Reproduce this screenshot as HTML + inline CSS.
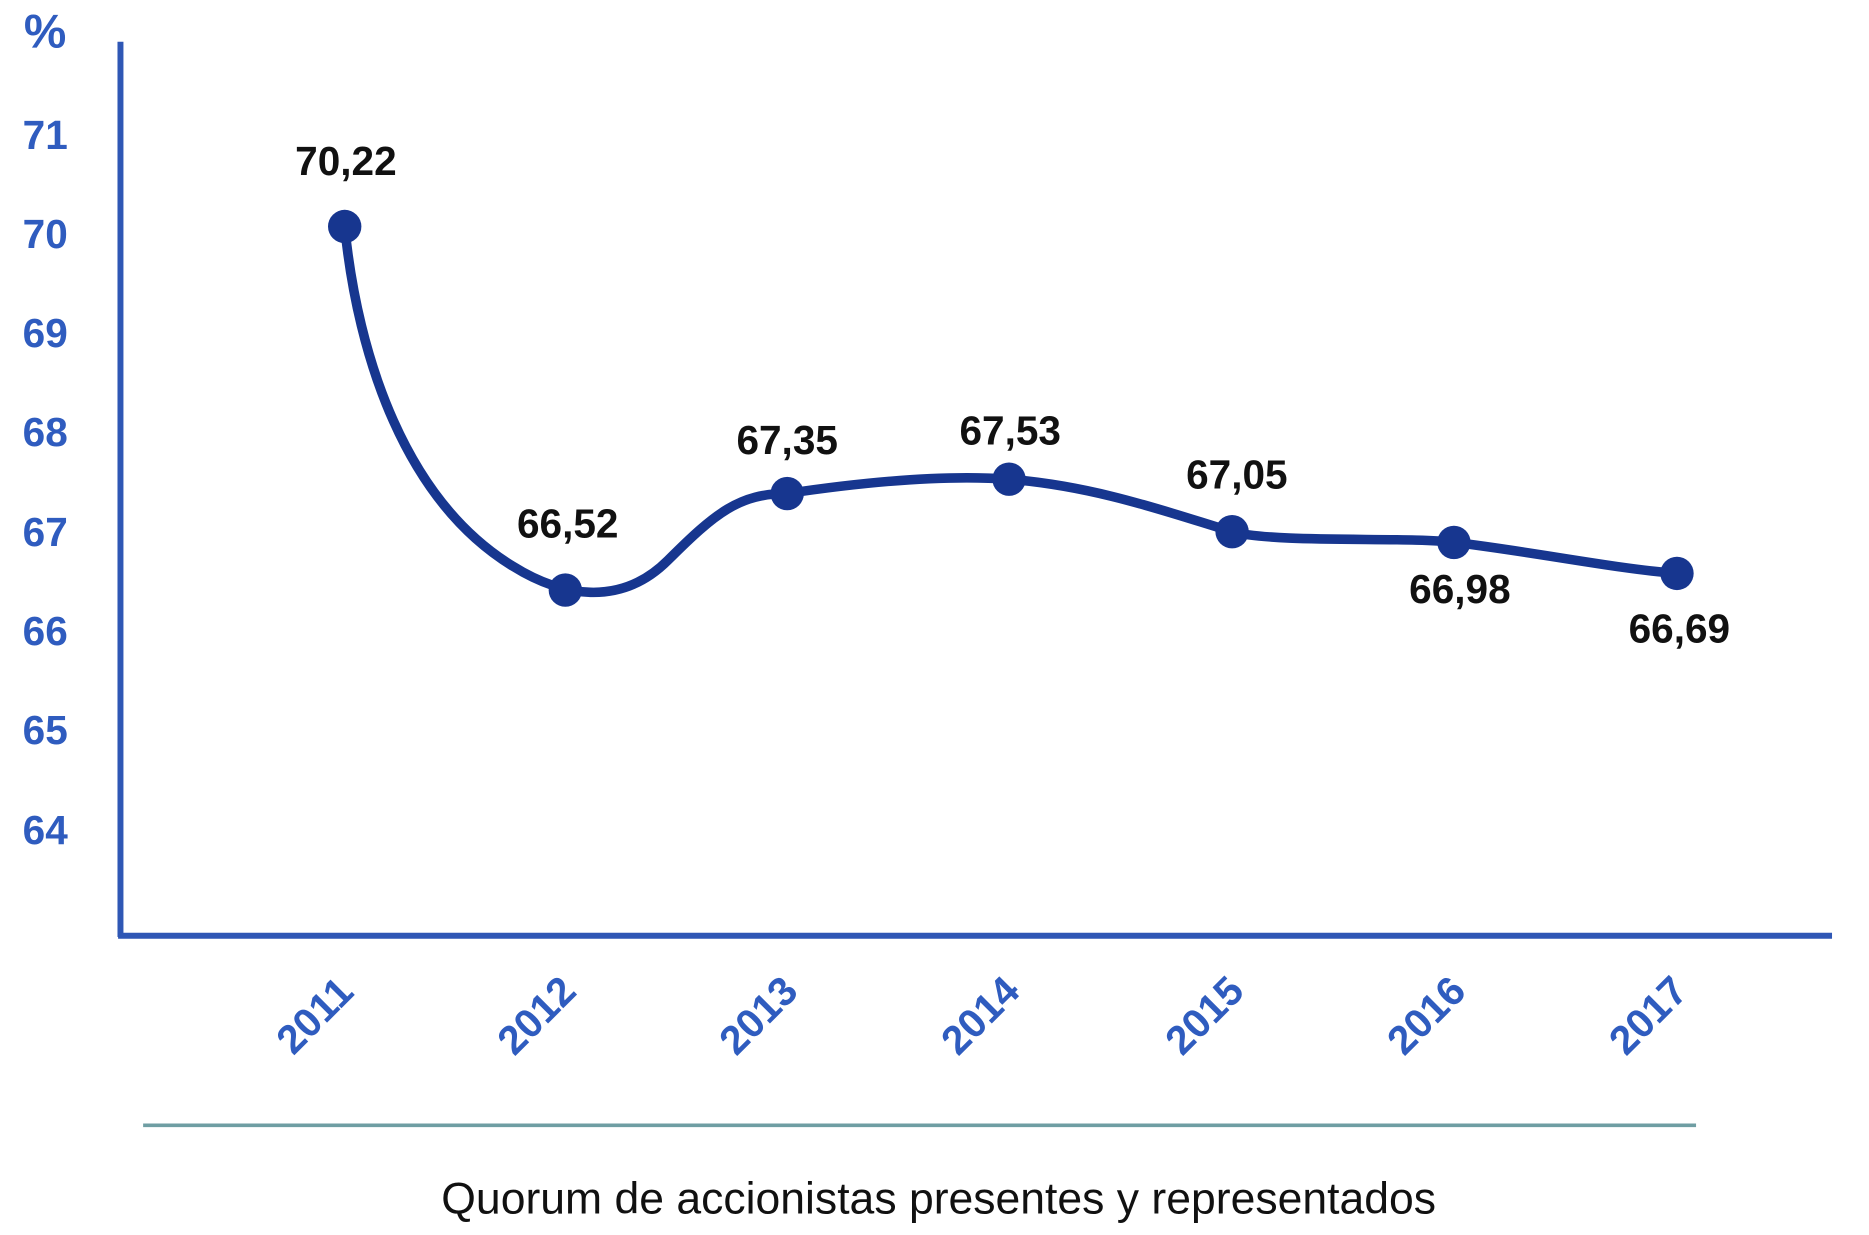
<!DOCTYPE html>
<html><head><meta charset="utf-8"><style>
html,body{margin:0;padding:0;background:#fff;}
svg{display:block;}
</style></head><body>
<svg width="1869" height="1235" viewBox="0 0 1567 1036" preserveAspectRatio="none" xmlns="http://www.w3.org/2000/svg">
<rect width="1567" height="1036" fill="#fff"/>
<g font-family="Liberation Sans, sans-serif" font-weight="bold" fill="#2f5cbf" font-size="34">
<text x="20" y="40" font-size="40">%</text>
<text x="19" y="125">71</text>
<text x="19" y="208">70</text>
<text x="19" y="291">69</text>
<text x="19" y="374">68</text>
<text x="19" y="458">67</text>
<text x="19" y="541">66</text>
<text x="19" y="624">65</text>
<text x="19" y="708">64</text>
</g>
<line x1="101" y1="35" x2="101" y2="786" stroke="#2f57b5" stroke-width="5"/>
<line x1="99" y1="785" x2="1536" y2="785" stroke="#2f57b5" stroke-width="5"/>
<path d="M289,190 C300,300 340,420 430,475 C470,500 520,510 560,470 C600,430 620,414 660,414 C720,405 790,398 846,402 C920,408 980,430 1033,446 C1070,456 1180,450 1219,455 C1280,462 1360,478 1406,481" fill="none" stroke="#17368f" stroke-width="8" stroke-linecap="round"/>
<g fill="#17368f">
<circle cx="289" cy="190" r="14"/><circle cx="474" cy="495" r="14"/><circle cx="660" cy="414" r="14"/><circle cx="846" cy="402" r="14"/><circle cx="1033" cy="446" r="14"/><circle cx="1219" cy="455" r="14"/><circle cx="1406" cy="481" r="14"/>
</g>
<g font-family="Liberation Sans, sans-serif" font-weight="bold" fill="#111" font-size="34" text-anchor="middle">
<text x="290" y="147">70,22</text>
<text x="476" y="451">66,52</text>
<text x="660" y="381">67,35</text>
<text x="847" y="373">67,53</text>
<text x="1037" y="410">67,05</text>
<text x="1224" y="506">66,98</text>
<text x="1408" y="539">66,69</text>
</g>
<g font-family="Liberation Sans, sans-serif" font-weight="bold" fill="#2f5cbf" font-size="34" text-anchor="middle">
<text transform="translate(272,860) rotate(-45)">2011</text>
<text transform="translate(458,860) rotate(-45)">2012</text>
<text transform="translate(644,860) rotate(-45)">2013</text>
<text transform="translate(830,860) rotate(-45)">2014</text>
<text transform="translate(1018,860) rotate(-45)">2015</text>
<text transform="translate(1204,860) rotate(-45)">2016</text>
<text transform="translate(1390,860) rotate(-45)">2017</text>
</g>
<line x1="120" y1="944" x2="1422" y2="944" stroke="#6f9ea3" stroke-width="3"/>
<text x="787" y="1018" font-family="Liberation Sans, sans-serif" font-size="37" fill="#111" text-anchor="middle" textLength="834" lengthAdjust="spacingAndGlyphs">Quorum de accionistas presentes y representados</text>
</svg>
</body></html>
